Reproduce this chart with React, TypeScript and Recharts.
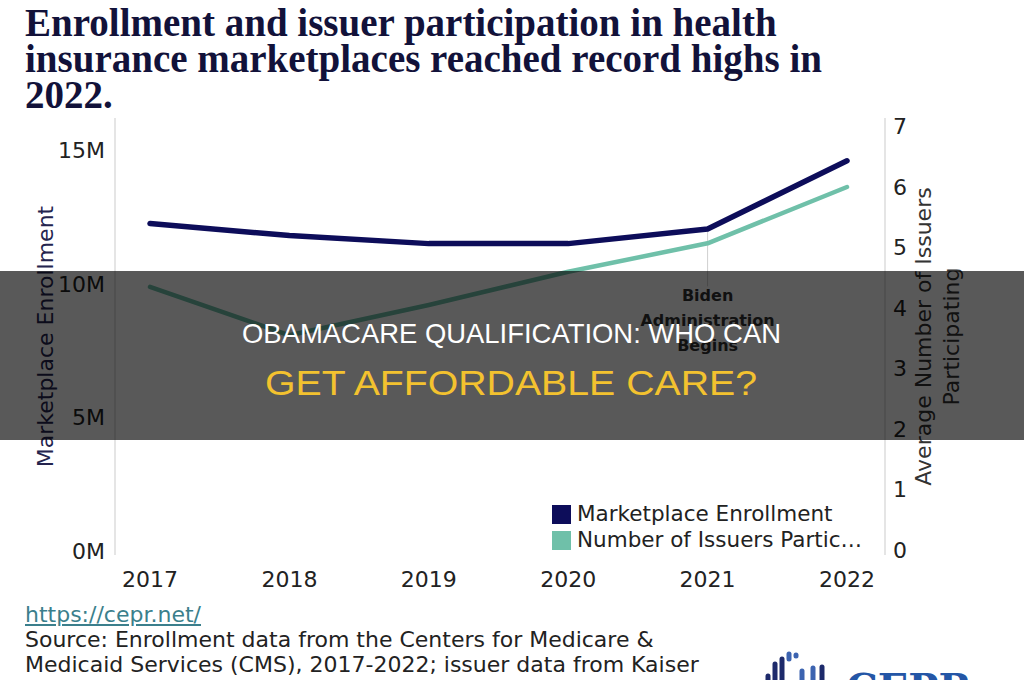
import React from 'react';
import {
  LineChart,
  Line,
  XAxis,
  YAxis,
  Legend,
  ReferenceLine,
  ReferenceDot,
} from 'recharts';

// Marketplace enrollment (millions) and average issuers per state, 2017-2022
const years = ['2017', '2018', '2019', '2020', '2021', '2022'];
const enrollment = [12.25, 11.8, 11.5, 11.5, 12.05, 14.6];
const issuers = [4.35, 3.55, 4.05, 4.6, 5.07, 6.0];

const enrollmentTicks = [0, 5, 10, 15];
const issuerTicks = [0, 1, 2, 3, 4, 5, 6, 7];

const annotationYear = '2021';
const annotationLines = ['Biden', 'Administration', 'Begins'];

const seriesNames = {
  enrollment: 'Marketplace Enrollment',
  issuers: 'Number of Issuers Participating',
};

const data = years.map((year, i) => ({
  year,
  enrollment: enrollment[i],
  issuers: issuers[i],
}));

const NAVY = '#0d0d5a';
const MINT = '#6fc0a9';
const FONT = '"DejaVu Sans", Verdana, sans-serif';

const truncate = (s: string, max: number) =>
  s.length > max ? s.slice(0, max).trimEnd() + '…' : s;

const LegendBox = ({ payload }: any) => (
  <div style={{ fontFamily: FONT, fontSize: 21.5, color: '#222', lineHeight: '26px' }}>
    {(payload || []).map((p: any) => (
      <div key={p.value} style={{ display: 'flex', alignItems: 'center' }}>
        <span
          style={{
            display: 'inline-block',
            width: 19,
            height: 19,
            background: p.color,
            marginRight: 6,
          }}
        />
        <span style={{ whiteSpace: 'nowrap' }}>{truncate(p.value, 24)}</span>
      </div>
    ))}
  </div>
);

const AnnotationLabel = ({ viewBox }: any) => {
  const cx = viewBox.x + (viewBox.width || 0) / 2;
  const cy = viewBox.y + (viewBox.height || 0) / 2;
  return (
    <g>
      {annotationLines.map((t, i) => (
        <text
          key={t}
          x={cx}
          y={cy + (i - 1) * 25}
          textAnchor="middle"
          dominantBaseline="middle"
          fontFamily={FONT}
          fontWeight="bold"
          fontSize={16}
          fill="#333"
        >
          {t}
        </text>
      ))}
    </g>
  );
};

const LeftAxisTitle = ({ viewBox }: any) => {
  const x = viewBox.x + 47;
  const y = viewBox.y + viewBox.height / 2;
  return (
    <text
      x={x}
      y={y}
      transform={`rotate(-90, ${x}, ${y})`}
      textAnchor="middle"
      dominantBaseline="middle"
      fontFamily={FONT}
      fontSize={22}
      fill="#24244e"
    >
      Marketplace Enrollment
    </text>
  );
};

const RightAxisTitle = ({ viewBox }: any) => {
  const y = viewBox.y + viewBox.height / 2;
  const lines = ['Average Number of Issuers', 'Participating'];
  return (
    <g>
      {lines.map((t, i) => {
        const x = viewBox.x + 40 + i * 28;
        return (
          <text
            key={t}
            x={x}
            y={y}
            transform={`rotate(-90, ${x}, ${y})`}
            textAnchor="middle"
            dominantBaseline="middle"
            fontFamily={FONT}
            fontSize={22}
            fill="#333"
          >
            {t}
          </text>
        );
      })}
    </g>
  );
};

const tickStyle = { fontFamily: FONT, fontSize: 22, fill: '#222' };

export default function App() {
  return (
    <div
      style={{
        position: 'absolute',
        left: 0,
        top: 0,
        width: 1024,
        height: 680,
        overflow: 'hidden',
        background: '#fff',
        fontFamily: FONT,
      }}
    >
      <div
        style={{
          position: 'absolute',
          left: 25,
          top: 5,
          fontFamily: '"Liberation Serif", serif',
          fontWeight: 'bold',
          fontSize: 39,
          lineHeight: '36px',
          color: '#12123a',
          whiteSpace: 'nowrap',
        }}
      >
        Enrollment and issuer participation in health
        <br />
        insurance marketplaces reached record highs in
        <br />
        2022.
      </div>

      <div style={{ position: 'absolute', left: 0, top: 0 }}>
        <LineChart
          width={1024}
          height={680}
          data={data}
          margin={{ top: 118, right: 0, bottom: 95, left: 0 }}
        >
          <XAxis
            dataKey="year"
            axisLine={false}
            tickLine={false}
            tickMargin={10}
            height={30}
            padding={{ left: 35, right: 38 }}
            tick={tickStyle}
          />
          <YAxis
            yAxisId="left"
            width={115}
            domain={[-0.15, 16.2]}
            allowDataOverflow
            ticks={enrollmentTicks}
            tickFormatter={(v: number) => `${v}M`}
            tickLine={false}
            tickMargin={4}
            axisLine={{ stroke: '#dcdcdc', strokeWidth: 1.5 }}
            tick={tickStyle}
            label={<LeftAxisTitle />}
          />
          <YAxis
            yAxisId="right"
            orientation="right"
            width={139}
            domain={[-0.08, 7.14]}
            allowDataOverflow
            ticks={issuerTicks}
            tickLine={false}
            tickMargin={2}
            axisLine={{ stroke: '#dcdcdc', strokeWidth: 1.5 }}
            tick={{ ...tickStyle, textAnchor: 'start' }}
            label={<RightAxisTitle />}
          />
          <ReferenceLine
            yAxisId="left"
            segment={[
              { x: annotationYear, y: enrollment[4] },
              { x: annotationYear, y: 9.9 },
            ]}
            stroke="#cfcfcf"
            strokeWidth={1}
          />
          <ReferenceDot
            yAxisId="left"
            x={annotationYear}
            y={8.6}
            r={0}
            fill="none"
            stroke="none"
            label={<AnnotationLabel />}
          />
          <Line
            yAxisId="right"
            type="linear"
            dataKey="issuers"
            name={seriesNames.issuers}
            stroke={MINT}
            strokeWidth={4.5}
            dot={false}
            strokeLinecap="round"
            strokeLinejoin="round"
            isAnimationActive={false}
          />
          <Line
            yAxisId="left"
            type="linear"
            dataKey="enrollment"
            name={seriesNames.enrollment}
            stroke={NAVY}
            strokeWidth={5.5}
            dot={false}
            strokeLinecap="round"
            strokeLinejoin="round"
            isAnimationActive={false}
          />
          <Legend
            layout="vertical"
            align="center"
            verticalAlign="middle"
            content={<LegendBox />}
            itemSorter={(item: any) => (item.dataKey === 'enrollment' ? 0 : 1)}
            wrapperStyle={{ left: 552, top: 501, width: 340, height: 'auto' }}
          />
        </LineChart>
      </div>

      <div
        style={{
          position: 'absolute',
          left: 25,
          top: 602,
          fontSize: 22,
          lineHeight: '25px',
          color: '#222',
          whiteSpace: 'nowrap',
        }}
      >
        <div style={{ color: '#3b7f8c', textDecoration: 'underline' }}>https://cepr.net/</div>
        <div>Source: Enrollment data from the Centers for Medicare &amp;</div>
        <div>Medicaid Services (CMS), 2017-2022; issuer data from Kaiser</div>
        <div>Family Foundation (KFF), 2017-2022, CEPR calculations.</div>
      </div>

      {/* CEPR logo mark, clipped at the page edge */}
      <svg
        width={1024}
        height={680}
        style={{ position: 'absolute', left: 0, top: 0, pointerEvents: 'none' }}
      >
        <g strokeLinecap="round" strokeWidth={5}>
          <line x1={768} y1={676} x2={768} y2={700} stroke="#1d2a6b" />
          <line x1={775} y1={664} x2={775} y2={700} stroke="#1d2a6b" />
          <line x1={782} y1={659} x2={782} y2={700} stroke="#1d2a6b" />
          <line x1={789} y1={654} x2={789} y2={659} stroke="#3c63b0" />
          <line x1={796} y1={655} x2={796} y2={656} stroke="#3c63b0" />
          <line x1={802} y1={671} x2={802} y2={700} stroke="#3c63b0" />
          <line x1={813} y1={668} x2={813} y2={700} stroke="#3c63b0" />
          <line x1={822} y1={667} x2={822} y2={700} stroke="#1d2a6b" />
        </g>
        <text
          x={846}
          y={702}
          fontFamily='"DejaVu Serif", serif'
          fontWeight="bold"
          fontSize={40}
          fill="#2456a6"
        >
          CEPR
        </text>

        {/* dark caption band */}
        <rect x={0} y={271} width={1024} height={169} fill="rgba(0,0,0,0.65)" />
        <text
          x={242}
          y={343}
          fontFamily='"Liberation Sans", Arial, sans-serif'
          fontSize={28}
          fill="#ffffff"
          textLength={539}
          lengthAdjust="spacingAndGlyphs"
        >
          OBAMACARE QUALIFICATION: WHO CAN
        </text>
        <text
          x={265}
          y={395}
          fontFamily='"Liberation Sans", Arial, sans-serif'
          fontSize={35}
          fill="#f3c22f"
          textLength={492}
          lengthAdjust="spacingAndGlyphs"
        >
          GET AFFORDABLE CARE?
        </text>
      </svg>
    </div>
  );
}
